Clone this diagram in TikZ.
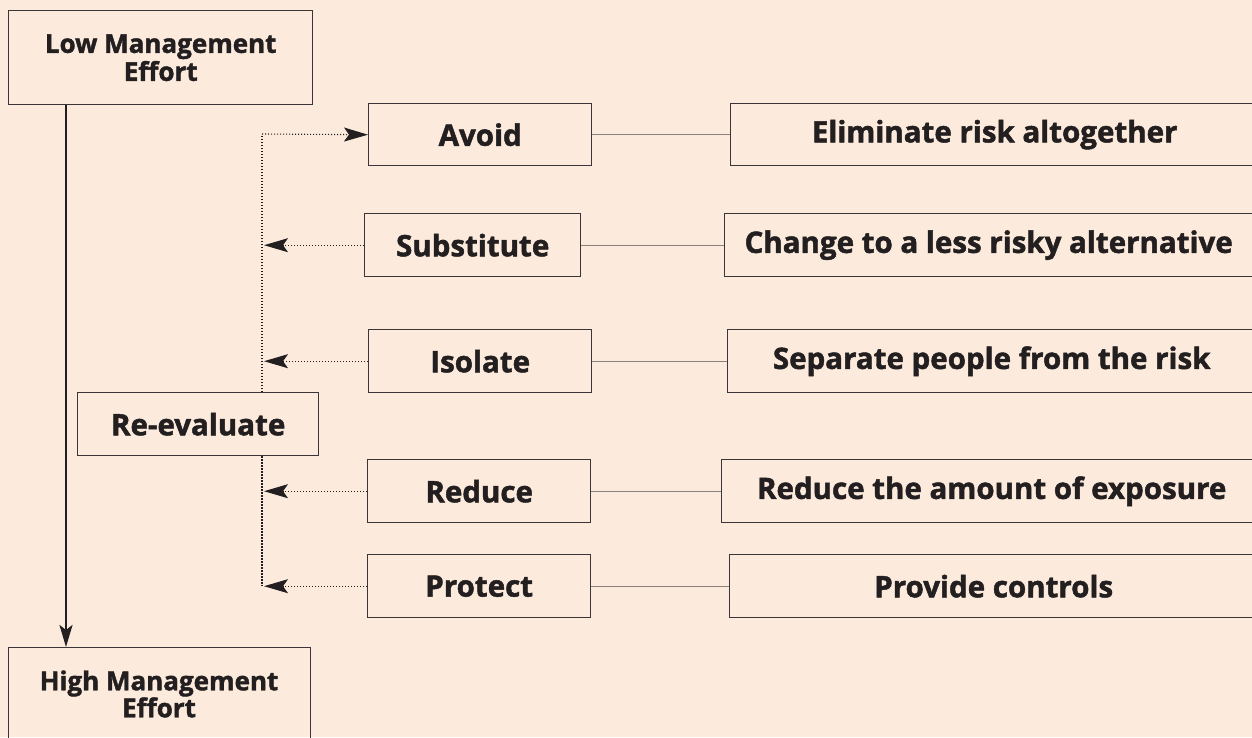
\documentclass[tikz,border=0pt]{standalone}
\usepackage{fontspec}
\setmainfont{Open Sans}[BoldFeatures={FakeBold=1.6}]
\usetikzlibrary{arrows.meta}
\definecolor{bg}{HTML}{FCEBDD}
\definecolor{ink}{HTML}{231F20}
\definecolor{edge}{HTML}{3A3536}
\definecolor{link}{HTML}{8A807C}
\tikzset{
  box/.style={draw=edge, line width=1.4pt, text=ink, font=\bfseries\fontsize{29.5}{28}\selectfont, anchor=north west, inner sep=0pt, align=center},
  endbox/.style={box, font=\bfseries\fontsize{26}{28}\selectfont},
  dotline/.style={draw=ink, line width=1.1pt, dash pattern=on 1.1pt off 1.9pt},
  dotarrow/.style={dotline, -{Stealth[length=24pt, width=14pt, inset=5pt, fill=ink]}},
  mainarrow/.style={draw=ink, line width=2.4pt, -{Stealth[length=22pt, width=13pt, inset=5pt]}},
  linkline/.style={draw=link, line width=1.3pt}
}
\begin{document}
\begin{tikzpicture}[x=1pt,y=-1pt]
\fill[bg] (0,0) rectangle (1252,737);
\useasboundingbox (0,0) rectangle (1252,737);
\clip (0,0) rectangle (1252,737);
% ends
\node[endbox, minimum width=304pt, minimum height=94pt] (low) at (8,10) {Low Management\\Effort};
\node[endbox, minimum width=302pt, minimum height=100pt, anchor=north west] (high) at (8,647) {};
\node[text=ink, font=\bfseries\fontsize{26}{27}\selectfont, align=center, inner sep=0pt] (hightext) at (159,694) {High Management\\Effort};
% actions
\node[box, minimum width=223pt, minimum height=62pt] (avoid) at (368,103) {Avoid};
\node[box, minimum width=216pt, minimum height=63pt] (sub) at (364,213) {Substitute};
\node[box, minimum width=223pt, minimum height=63pt] (iso) at (368,329) {Isolate};
\node[box, minimum width=223pt, minimum height=63pt] (red) at (367,459) {Reduce};
\node[box, minimum width=223pt, minimum height=63pt] (pro) at (367,554) {Protect};
% descriptions
\node[box, minimum width=528pt, minimum height=62pt] (elim) at (730,103) {Eliminate risk altogether};
\node[box, minimum width=528pt, minimum height=63pt] (chg) at (724,213) {Change to a less risky alternative};
\node[box, minimum width=528pt, minimum height=63pt] (sep) at (727,329) {Separate people from the risk};
\node[box, minimum width=540pt, minimum height=63pt] (rde) at (721,459) {Reduce the amount of exposure};
\node[box, minimum width=528pt, minimum height=63pt] (prv) at (729,554) {Provide controls};
% re-evaluate
\node[box, minimum width=241pt, minimum height=63pt] (re) at (77,392) {Re-evaluate};
% coordinates
\coordinate (ax) at (66,0);
\coordinate (vx) at (262,0);
\coordinate (vtop) at (262,134);
\coordinate (vbot) at (262,586);
\coordinate (tipx) at (264,0);
% main arrow
\draw[mainarrow] (low.south -| ax) -- (high.north -| ax);
% links
\draw[linkline] (avoid.east) -- (elim.west);
\draw[linkline] (sub.east) -- (chg.west);
\draw[linkline] (iso.east) -- (sep.west);
\draw[linkline] (red.east) -- (rde.west);
\draw[linkline] (pro.east) -- (prv.west);
% dotted loop
\draw[dotline] (re.north -| vx) -- (vtop);
\draw[dotline] (re.south -| vx) -- (vbot);
\draw[dotarrow] (vtop) -- (avoid.west);
\draw[dotarrow] (sub.west) -- (sub.west -| tipx);
\draw[dotarrow] (iso.west) -- (iso.west -| tipx);
\draw[dotarrow] (red.west) -- (red.west -| tipx);
\draw[dotarrow] (pro.west) -- (pro.west -| tipx);
\end{tikzpicture}
\end{document}
